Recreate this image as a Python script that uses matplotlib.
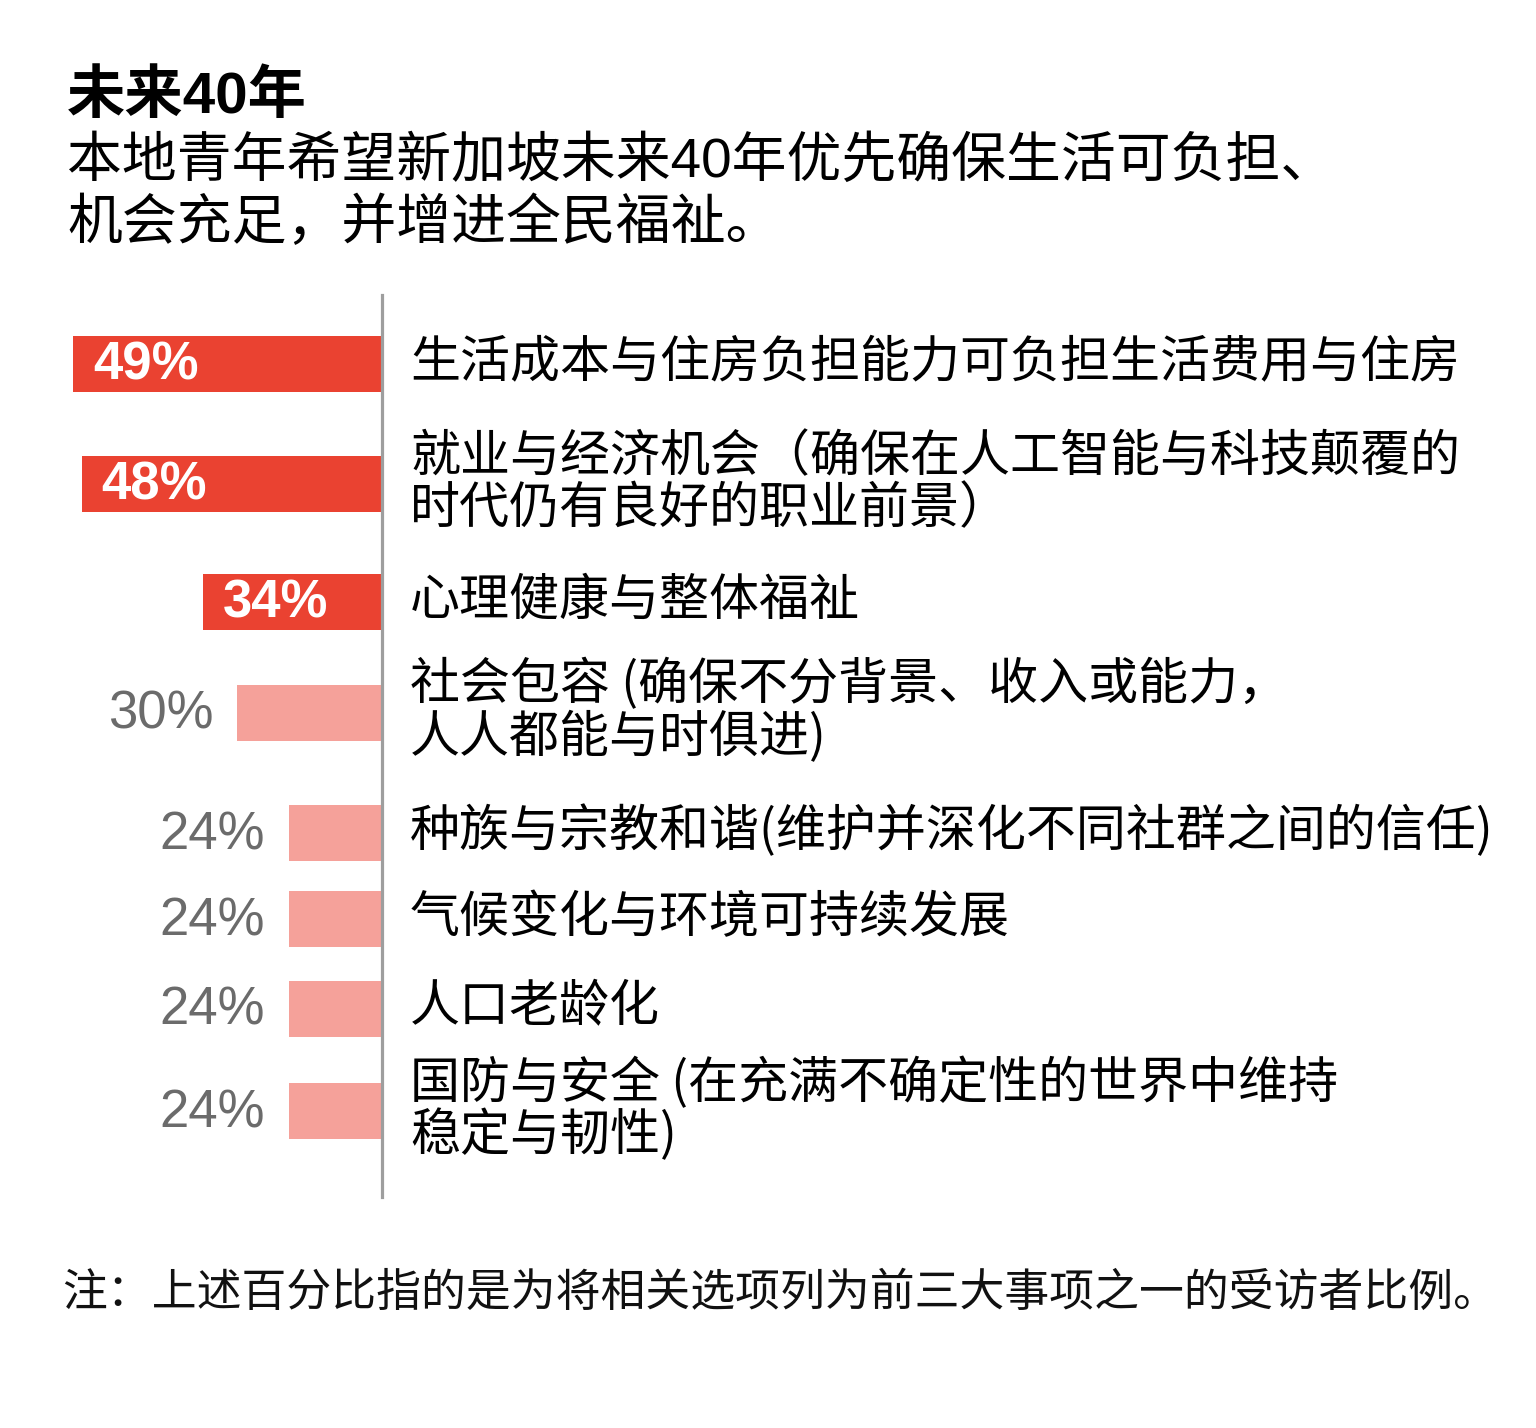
import matplotlib.pyplot as plt

labels = [
    "生活成本与住房负担能力可负担生活费用与住房",
    "就业与经济机会（确保在人工智能与科技颠覆的\n时代仍有良好的职业前景）",
    "心理健康与整体福祉",
    "社会包容 (确保不分背景、收入或能力，\n人人都能与时俱进)",
    "种族与宗教和谐(维护并深化不同社群之间的信任)",
    "气候变化与环境可持续发展",
    "人口老龄化",
    "国防与安全 (在充满不确定性的世界中维持\n稳定与韧性)",
]
values = [49, 48, 34, 30, 24, 24, 24, 24]
highlight = [True, True, True, False, False, False, False, False]

title = "未来40年"
subtitle = ["本地青年希望新加坡未来40年优先确保生活可负担、",
            "机会充足，并增进全民福祉。"]
note = "注：上述百分比指的是为将相关选项列为前三大事项之一的受访者比例。"

# layout (pixel rows of the bars, axis baseline)
ypos = [363.5, 484, 602, 712.5, 833, 919, 1008.5, 1111]
bar_h = 56
base = 13.24

RED = "#EA4231"
PINK = "#F5A19A"
GREY = "#6B6B6B"
CJK = ["Noto Sans CJK SC", "DejaVu Sans"]
LAT = ["Liberation Sans", "Noto Sans CJK SC", "DejaVu Sans"]

W, H = 1536, 1428
fig = plt.figure(figsize=(W / 100, H / 100), dpi=100)
fig.patch.set_facecolor("white")

# axes spans x 0..382 px, y 295..1197 px
ax = fig.add_axes([0, 1 - 1197 / H, 382 / W, (1197 - 295) / H])
ax.set_xlim(base + 382 / 8.64, base)
ax.set_ylim(1197, 295)
ax.axis("off")

colors = [RED if h else PINK for h in highlight]
ax.barh(ypos, [v - base for v in values], left=base, height=bar_h,
        color=colors, linewidth=0)
ax.axvline(base, color="#9E9E9E", lw=2.3, clip_on=False)

for y, v, h, lab in zip(ypos, values, highlight, labels):
    if h:
        ax.annotate(f"{v}%", xy=(v, y), xytext=(20, -2), textcoords="offset pixels",
                    ha="left", va="center", color="white", fontsize=38,
                    fontweight="bold", family=LAT)
    else:
        ax.annotate(f"{v}%", xy=(v, y), xytext=(-24, -2), textcoords="offset pixels",
                    ha="right", va="center", color=GREY, fontsize=38,
                    family=LAT)
    ax.annotate(lab, xy=(base, y), xytext=(28, 1), textcoords="offset pixels",
                ha="left", va="center", color="black", fontsize=36,
                family=CJK, linespacing=1.0, annotation_clip=False)

fig.text(67 / W, 1 - 98 / H, title, fontsize=42, fontweight="bold",
         family=LAT, ha="left", va="center")
for i, line in enumerate(subtitle):
    fig.text(67 / W, 1 - (163 + 62 * i) / H, line, fontsize=39.5, family=LAT,
             ha="left", va="center")
fig.text(62 / W, 1 - 1293 / H, note, fontsize=32.3, family=CJK,
         ha="left", va="center", color="#111111")

fig.savefig("out.png", dpi=100, facecolor="white")
